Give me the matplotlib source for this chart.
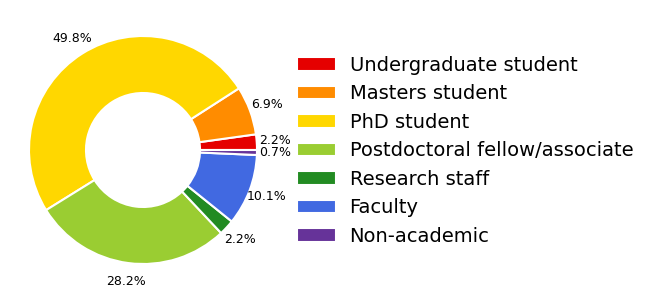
import matplotlib
matplotlib.use("Agg")
import matplotlib.pyplot as plt

# data
labels = ['Undergraduate student', 'Masters student', 'PhD student',
          'Postdoctoral fellow/associate', 'Research staff', 'Faculty',
          'Non-academic']
shares = [2.2, 6.9, 49.8, 28.2, 2.2, 10.1, 0.7]
colors = ['#e50000', '#ff8c00', '#ffd700', '#9acd32', '#228b22',
          '#4169e1', '#663399']

fig = plt.figure(figsize=(6.5, 3), dpi=100)
ax = fig.add_axes([0.0, 0.025, 0.44, 0.95])

wedges, texts, autotexts = ax.pie(
    shares, colors=colors, startangle=0, autopct='%.1f%%',
    pctdistance=1.16, wedgeprops=dict(width=0.5, edgecolor='white', linewidth=1.5),
    textprops=dict(fontsize=9))
ax.set_aspect('equal')

fig.legend(wedges, labels, loc='center left', bbox_to_anchor=(0.43, 0.497),
           frameon=False, fontsize=14, handlelength=2, handletextpad=0.7,
           labelspacing=0.49)

fig.savefig('out.png', dpi=100)
